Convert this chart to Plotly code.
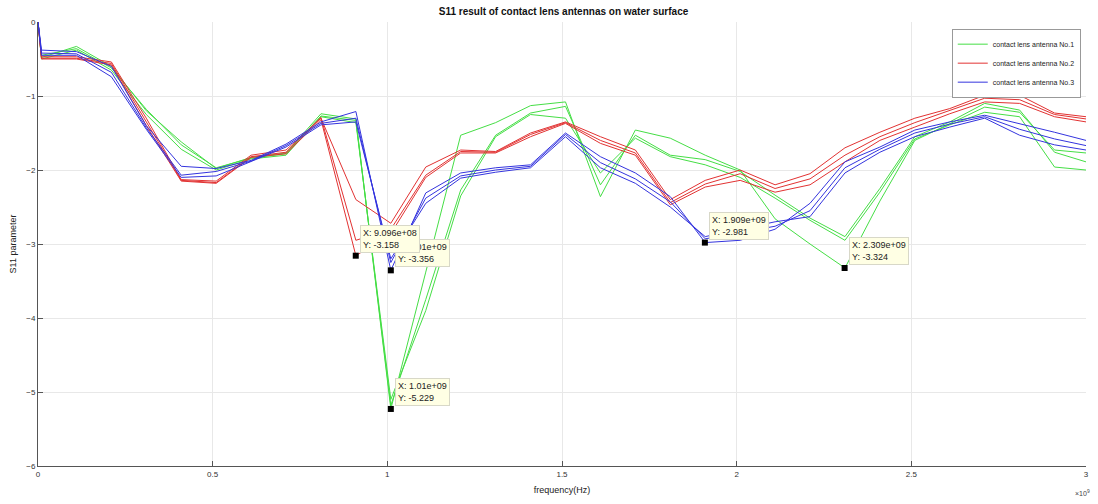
import plotly.graph_objects as go

# frequency axis in units of 1e9 Hz
freq = [0, 0.01, 0.11, 0.21, 0.31, 0.41, 0.51, 0.61, 0.71, 0.81, 0.91, 1.01, 1.11, 1.21, 1.31, 1.41,
        1.51, 1.61, 1.71, 1.81, 1.91, 2.01, 2.11, 2.21, 2.31, 2.41, 2.51, 2.61, 2.71, 2.81, 2.91, 3.0]

green1 = [0, -0.48, -0.33, -0.60, -1.20, -1.62, -1.98, -1.83, -1.77, -1.24, -1.31, -5.229, -3.38, -1.53, -1.36, -1.13,
          -1.08, -2.36, -1.46, -1.57, -1.80, -2.00, -2.66, -3.00, -3.324, -2.42, -1.60, -1.38, -1.15, -1.22, -1.73, -1.77]
green2 = [0, -0.45, -0.36, -0.62, -1.18, -1.66, -1.97, -1.84, -1.78, -1.27, -1.33, -5.18, -3.75, -2.27, -1.53, -1.23,
          -1.14, -2.20, -1.53, -1.80, -1.86, -2.02, -2.34, -2.65, -2.90, -2.25, -1.55, -1.35, -1.10, -1.19, -1.76, -1.89]
green3 = [0, -0.50, -0.38, -0.65, -1.25, -1.72, -2.00, -1.85, -1.80, -1.28, -1.36, -5.10, -3.90, -2.35, -1.55, -1.25,
          -1.30, -2.04, -1.57, -1.82, -1.93, -2.10, -2.38, -2.68, -2.95, -2.30, -1.58, -1.39, -1.22, -1.28, -1.96, -2.00]

red1 = [0, -0.47, -0.47, -0.54, -1.30, -2.13, -2.15, -1.80, -1.73, -1.30, -2.40, -2.72, -1.96, -1.73, -1.75, -1.50,
        -1.35, -1.55, -1.73, -2.40, -2.14, -2.00, -2.20, -2.05, -1.70, -1.49, -1.30, -1.17, -0.99, -0.99, -1.23, -1.28]
red2 = [0, -0.49, -0.49, -0.56, -1.35, -2.14, -2.17, -1.82, -1.76, -1.29, -2.95, -2.80, -2.07, -1.75, -1.76, -1.52,
        -1.36, -1.60, -1.77, -2.44, -2.19, -2.05, -2.25, -2.12, -1.80, -1.55, -1.36, -1.20, -1.03, -1.05, -1.25, -1.31]
red3 = [0, -0.50, -0.50, -0.58, -1.40, -2.15, -2.18, -1.83, -1.78, -1.32, -3.158, -2.86, -2.10, -1.77, -1.77, -1.55,
        -1.37, -1.64, -1.80, -2.47, -2.23, -2.14, -2.30, -2.20, -1.89, -1.60, -1.42, -1.24, -1.08, -1.10, -1.28, -1.35]

blue1 = [0, -0.38, -0.40, -0.60, -1.40, -1.95, -1.98, -1.87, -1.65, -1.35, -1.21, -3.356, -2.31, -2.04, -1.97, -1.93,
         -1.50, -1.82, -2.04, -2.36, -2.981, -2.95, -2.80, -2.45, -1.89, -1.69, -1.46, -1.35, -1.26, -1.37, -1.49, -1.60]
blue2 = [0, -0.42, -0.43, -0.68, -1.43, -2.07, -2.02, -1.88, -1.67, -1.37, -1.30, -3.25, -2.38, -2.08, -2.00, -1.95,
         -1.52, -1.90, -2.12, -2.43, -2.93, -2.85, -2.76, -2.55, -1.97, -1.72, -1.50, -1.38, -1.28, -1.45, -1.58, -1.67]
blue3 = [0, -0.45, -0.45, -0.74, -1.45, -2.10, -2.08, -1.89, -1.69, -1.39, -1.35, -3.20, -2.45, -2.11, -2.03, -1.97,
         -1.55, -1.97, -2.18, -2.50, -2.90, -2.80, -2.70, -2.63, -2.04, -1.76, -1.55, -1.42, -1.30, -1.53, -1.66, -1.73]

series_names = ["contact lens antenna No.1", "contact lens antenna No.2", "contact lens antenna No.3"]

# data tips: (x in Hz, y)
tip_x = [1.01e9, 9.096e8, 1.01e9, 1.909e9, 2.309e9]
tip_y = [-3.356, -3.158, -5.229, -2.981, -3.324]

GREEN = "#45DE45"
RED = "#E23232"
BLUE = "#3434DE"

fig = go.Figure()
groups = [(series_names[0], GREEN, [green1, green2, green3]),
          (series_names[1], RED, [red1, red2, red3]),
          (series_names[2], BLUE, [blue1, blue2, blue3])]
for name, col, lines in groups:
    for i, ys in enumerate(lines):
        fig.add_trace(go.Scatter(x=freq, y=ys, mode="lines", name=name,
                                 legendgroup=name, showlegend=(i == 0),
                                 line=dict(color=col, width=1)))

fig.add_trace(go.Scatter(x=[v / 1e9 for v in tip_x], y=tip_y, mode="markers", showlegend=False,
                         marker=dict(symbol="square", size=6, color="black")))

for tx, ty in zip(tip_x, tip_y):
    fig.add_annotation(x=tx / 1e9, y=ty, xref="x", yref="y",
                       text=f"X: {tx:.4g}<br>Y: {ty:.4g}", showarrow=False,
                       xanchor="left", yanchor="bottom", xshift=4, yshift=3, align="left",
                       bgcolor="#FFFFE4", bordercolor="#D8D8C8", borderwidth=1, borderpad=2,
                       font=dict(family="Liberation Sans, Arial", size=9, color="#222222"))

fig.add_annotation(x=1, y=0, xref="paper", yref="paper", xanchor="right", yanchor="top",
                   xshift=6, yshift=-21, text="×10<sup>9</sup>", showarrow=False,
                   font=dict(family="Liberation Sans, Arial", size=7, color="#444444"))

axis_common = dict(showgrid=True, gridcolor="#E8E8E8", gridwidth=1, zeroline=False,
                   showline=True, linecolor="#555555", linewidth=1,
                   ticks="inside", ticklen=5, tickcolor="#555555",
                   tickfont=dict(family="Liberation Sans, Arial", size=8, color="#333333"))

fig.update_layout(
    width=1098, height=504,
    margin=dict(l=38, r=9, t=22, b=38),
    paper_bgcolor="white", plot_bgcolor="white",
    font=dict(family="Liberation Sans, Arial", color="#222222"),
    title=dict(text="<b>S11 result of contact lens antennas on water surface</b>",
               x=(38 + 1089) / 2 / 1098, xanchor="center", y=1 - 11 / 504, yanchor="middle",
               font=dict(size=10, color="#111111")),
    xaxis=dict(range=[0, 3], tickvals=[0, 0.5, 1, 1.5, 2, 2.5, 3],
               ticktext=["0", "0.5", "1", "1.5", "2", "2.5", "3"],
               title=dict(text="frequency(Hz)", font=dict(size=9, color="#222222"), standoff=9),
               **axis_common),
    yaxis=dict(range=[-6, 0], tickvals=[0, -1, -2, -3, -4, -5, -6],
               title=dict(text="S11 parameter", font=dict(size=9, color="#222222"), standoff=8),
               **axis_common),
    legend=dict(x=0.995, y=0.985, xanchor="right", yanchor="top",
                bgcolor="white", bordercolor="#999999", borderwidth=1,
                font=dict(size=7, color="#222222"), tracegroupgap=0, itemwidth=30),
)

fig.write_html("out.html")
